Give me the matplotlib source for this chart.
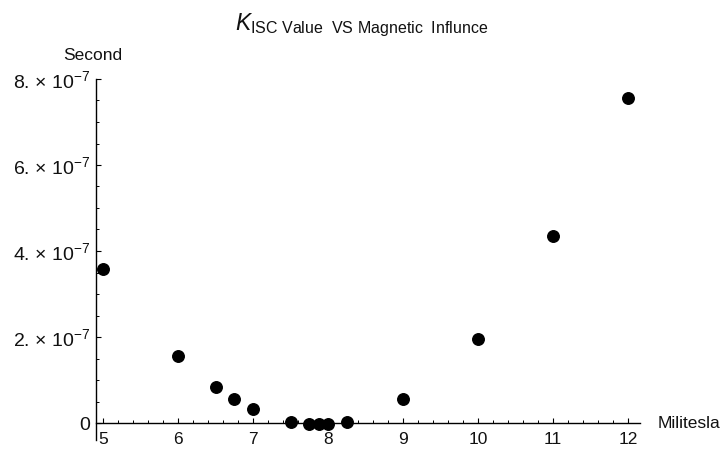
import matplotlib.pyplot as plt
from matplotlib.ticker import MultipleLocator, FixedLocator, FixedFormatter

plt.rcParams['font.family'] = ['Liberation Sans', 'DejaVu Sans']
plt.rcParams['mathtext.fontset'] = 'custom'
plt.rcParams['mathtext.rm'] = 'Liberation Sans'
plt.rcParams['mathtext.it'] = 'Liberation Sans:italic'
plt.rcParams['mathtext.bf'] = 'Liberation Sans:bold'

# data
field = [5, 6, 6.5, 6.75, 7, 7.5, 7.75, 7.875, 8, 8.25, 9, 10, 11, 12]
kisc = [3.57e-7, 1.56e-7, 0.84e-7, 0.55e-7, 0.32e-7, 0.03e-7, -0.015e-7,
        -0.015e-7, -0.015e-7, 0.03e-7, 0.55e-7, 1.95e-7, 4.34e-7, 7.56e-7]

xticks = [5, 6, 7, 8, 9, 10, 11, 12]
yticks = [0, 2e-7, 4e-7, 6e-7, 8e-7]
ylabels = ["0", r"2. $\times$ 10$^{-7}$", r"4. $\times$ 10$^{-7}$",
           r"6. $\times$ 10$^{-7}$", r"8. $\times$ 10$^{-7}$"]

fig = plt.figure(figsize=(7.2, 4.49), dpi=100)
ax = fig.add_axes([96 / 720, 9 / 449, 544 / 720, 361 / 449])

ax.plot(field, kisc, "o", color="black", markersize=8.3, clip_on=False)

ax.set_xlim(5 - 7 / 75, 5 + 537 / 75)
ax.set_ylim(-17 / 43 * 1e-7, 344 / 43 * 1e-7)

for s in ["top", "right"]:
    ax.spines[s].set_visible(False)
ax.spines["bottom"].set_position(("data", 0))
ax.spines["bottom"].set_linewidth(1.0)
ax.spines["left"].set_linewidth(1.0)

ax.xaxis.set_major_locator(FixedLocator(xticks))
ax.xaxis.set_minor_locator(MultipleLocator(0.2))
ax.yaxis.set_major_locator(FixedLocator(yticks))
ax.yaxis.set_major_formatter(FixedFormatter(ylabels))
ax.yaxis.set_minor_locator(MultipleLocator(0.5e-7))

ax.tick_params(axis="both", which="both", direction="in", color="black",
               labelcolor="#111111")
ax.tick_params(axis="x", labelsize=12.5)
ax.tick_params(axis="y", labelsize=14)
ax.tick_params(axis="both", which="major", length=3.5, width=0.8)
ax.tick_params(axis="both", which="minor", length=2, width=0.7)
ax.tick_params(axis="x", which="major", pad=6.5)
ax.tick_params(axis="y", which="major", pad=4)

ax.annotate("Militesla", xy=(1, 0), xycoords=("axes fraction", "data"),
            xytext=(13, 0), textcoords="offset points",
            ha="left", va="center", fontsize=12.5, color="#111111")
ax.annotate("Second", xy=(0, 1), xycoords="axes fraction",
            xytext=(-2, 14), textcoords="offset points",
            ha="center", va="baseline", fontsize=12.5, color="#111111")

fig.text(362 / 720, 1 - 30 / 449,
         r"$K_{\mathrm{ISC\ Value\ \ VS\ Magnetic\ \ Influnce}}$",
         ha="center", va="baseline", fontsize=16.5, color="#111111")

fig.savefig("out.png", dpi=100)
